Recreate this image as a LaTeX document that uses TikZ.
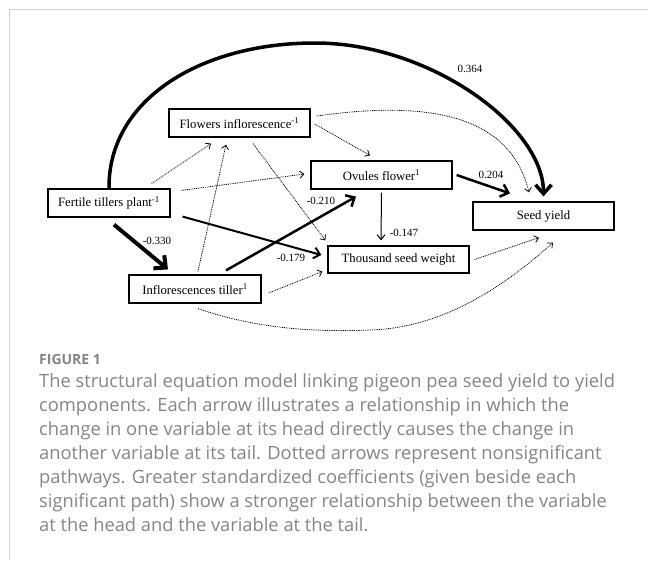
\documentclass[tikz,border=0pt]{standalone}
\usepackage{fontspec}
\setmainfont{Liberation Serif}
\newfontfamily\capfont{Open Sans}
\usetikzlibrary{arrows.meta}
\definecolor{framegray}{HTML}{D0D0D0}
\definecolor{capgray}{HTML}{858585}
\begin{document}
\begin{tikzpicture}[x=1pt,y=-1pt,
  box/.style={draw, line width=1.2pt, minimum height=28pt, inner sep=0pt, font=\fontsize{12.7}{14}\selectfont},
  lbl/.style={font=\fontsize{11}{13}\selectfont, inner sep=0pt},
  dotarrow/.style={line width=0.8pt, dash pattern=on 0.9pt off 0.9pt, -{Straight Barb[length=4pt,width=7pt,line width=0.8pt]}},
  captext/.style={anchor=base west, inner sep=0pt, text=capgray, font=\capfont\fontsize{18.3}{20}\selectfont}
]
\useasboundingbox (0,0) rectangle (648,560);
\draw[framegray, line width=1pt] (9.3,560) -- (9.3,9.5) -- (648,9.5);

% boxes
\node[box, minimum width=141pt] (FI) at (239.5,123) {Flowers inflorescence\textsuperscript{-1}};
\node[box, minimum width=141pt] (OF) at (381.5,175) {Ovules flower\textsuperscript{1}};
\node[box, minimum width=122pt] (FT) at (109,203) {Fertile tillers plant\textsuperscript{-1}};
\node[box, minimum width=141pt] (SY) at (543.5,216) {Seed yield};
\node[box, minimum width=141pt, minimum height=27pt] (TSW) at (398.5,259.5) {Thousand seed weight};
\node[box, minimum width=132pt] (IT) at (195,289) {Inflorescences tiller\textsuperscript{1}};

% significant paths
\draw[line width=3.5pt, -{Straight Barb[length=9pt,width=16pt,line width=3.5pt]}]
  (FT.north) .. controls (108,100) and (200,43) .. (315,43)
  .. controls (430,43) and ([yshift=75pt]SY.north) .. ([yshift=5pt]SY.north);
\draw[line width=2.5pt, -{Straight Barb[length=7pt,width=13pt,line width=2.5pt]}]
  ([xshift=4pt]OF.east) -- ([xshift=-33.5pt,yshift=8pt]SY.north);
\draw[line width=1pt, -{Straight Barb[length=5pt,width=8pt,line width=1pt]}]
  ([yshift=-3pt]OF.south) -- ([xshift=-17.5pt,yshift=5pt]TSW.north);
\draw[line width=2pt, -{Straight Barb[length=6pt,width=11pt,line width=2pt]}]
  ([xshift=12pt,yshift=1pt]FT.south east) -- ([xshift=-6pt,yshift=4.5pt]TSW.west);
\draw[line width=4pt, -{Straight Barb[length=9pt,width=17pt,line width=4pt]}]
  ([xshift=5pt,yshift=-7pt]FT.south) -- ([xshift=-27pt,yshift=5pt]IT.north);
\draw[line width=2.5pt, -{Straight Barb[length=7pt,width=13pt,line width=2.5pt]}]
  ([xshift=31pt,yshift=4pt]IT.north) -- ([xshift=-25.5pt,yshift=-7pt]OF.south);

% nonsignificant paths
\draw[dotarrow] ([xshift=-19pt,yshift=5pt]FT.north east) -- ([xshift=-28.5pt,yshift=-6pt]FI.south);
\draw[dotarrow] ([xshift=11pt,yshift=-2pt]FT.north east) -- ([xshift=-6pt,yshift=1pt]OF.west);
\draw[dotarrow] ([xshift=3pt,yshift=3pt]IT.north) -- ([xshift=-13.5pt,yshift=-7pt]FI.south);
\draw[dotarrow] ([xshift=13.5pt,yshift=-6pt]FI.south) -- ([xshift=-2pt,yshift=5pt]TSW.north west);
\draw[dotarrow] ([xshift=4pt,yshift=-1pt]FI.east) -- ([xshift=-11.5pt,yshift=5pt]OF.north);
\draw[dotarrow] ([xshift=6pt,yshift=7pt]FI.east) .. controls (430,100) and (510,115) .. ([xshift=-14.5pt,yshift=9pt]SY.north);
\draw[dotarrow] ([xshift=5pt]TSW.east) -- ([xshift=-4.5pt,yshift=-7pt]SY.south);
\draw[dotarrow] ([xshift=7pt,yshift=-4pt]IT.east) -- ([xshift=-5pt,yshift=2pt]TSW.south west);
\draw[dotarrow] ([xshift=3pt,yshift=-5pt]IT.south) .. controls (260,330) and (320,332) .. (370,330)
  .. controls (440,328) and (500,290) .. ([xshift=9.5pt,yshift=-12pt]SY.south);

% coefficients
\node[lbl] (l364) at (470,69) {0.364};
\node[lbl] (l204) at (491,175) {0.204};
\node[lbl] (l147) at (404,233) {-0.147};
\node[lbl] (l179) at (291,258) {-0.179};
\node[lbl] (l330) at (157,241) {-0.330};
\node[lbl] (l210) at (321,201) {-0.210};

% caption
\node[captext, font=\capfont\bfseries\fontsize{14}{16}\selectfont] (fig) at (39,364) {FIGURE 1};
\node[captext] (c1) at (39,387.6) {The structural equation model linking pigeon pea seed yield to yield};
\node[captext] (c2) at (39,411.5) {components. Each arrow illustrates a relationship in which the};
\node[captext] (c3) at (39,435.4) {change in one variable at its head directly causes the change in};
\node[captext] (c4) at (39,459.3) {another variable at its tail. Dotted arrows represent nonsignificant};
\node[captext] (c5) at (39,483.2) {pathways. Greater standardized coefficients (given beside each};
\node[captext] (c6) at (39,507.1) {significant path) show a stronger relationship between the variable};
\node[captext] (c7) at (39,531) {at the head and the variable at the tail.};
\end{tikzpicture}
\end{document}
